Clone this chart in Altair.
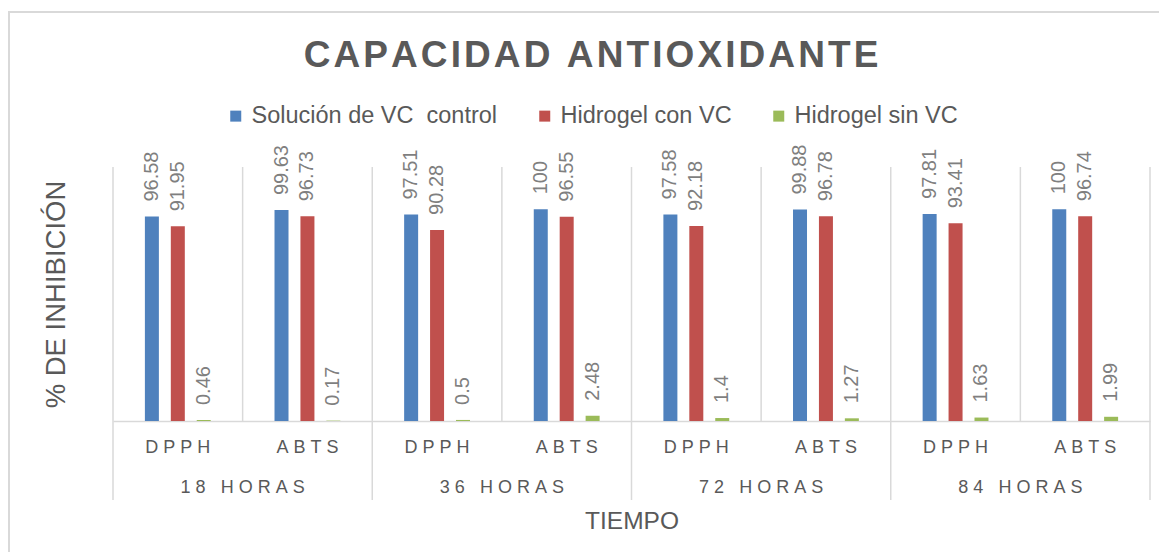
import altair as alt
import pandas as pd

# ---- data ----
titulo = "CAPACIDAD ANTIOXIDANTE"
grupos = ["18 HORAS", "36 HORAS", "72 HORAS", "84 HORAS"]
metodos = ["DPPH", "ABTS"]
series = ["Solución de VC  control", "Hidrogel con VC", "Hidrogel sin VC"]
control = [96.58, 99.63, 97.51, 100, 97.58, 99.88, 97.81, 100]
con_vc = [91.95, 96.73, 90.28, 96.55, 92.18, 96.78, 93.41, 96.74]
sin_vc = [0.46, 0.17, 0.5, 2.48, 1.4, 1.27, 1.63, 1.99]
colores = ["#4F81BD", "#C0504D", "#9BBB59"]

keys = [f"{g}|{m}" for g in grupos for m in metodos]
rows = []
for i, k in enumerate(keys):
    for s, vals in zip(series, [control, con_vc, sin_vc]):
        rows.append({"clave": k, "serie": s, "valor": vals[i]})
df = pd.DataFrame(rows)

W, H = 1037, 254
GRAY = "#595959"
LINE = "#d9d9d9"
NB = "\u00a0"

xscale = alt.Scale(domain=keys, paddingInner=0, paddingOuter=0)
# empty slots on each side of the three series give the gap inside each category
oscale = alt.Scale(domain=["_a"] + series + ["_b"], paddingInner=0.46, paddingOuter=0.23)
yscale = alt.Scale(domain=[0, 120], nice=False)

xaxis = alt.Axis(
    title="TIEMPO",
    labelExpr="join(split(split(datum.label, '|')[1], ''), '" + NB + "')",
    bandPosition=0.5, labelAlign="center",
    ticks=False, grid=False, domainColor=LINE, domainWidth=1.5,
    labelAngle=0, labelFontSize=18, labelColor=GRAY, labelPadding=26,
    titleFontSize=24.5, titleFontWeight="normal", titleColor=GRAY, titlePadding=53,
)
yaxis = alt.Axis(
    title="% DE INHIBICIÓN", labels=False, ticks=False, domain=False, grid=False,
    titleFontSize=27.5, titleFontWeight="normal", titleColor=GRAY, titlePadding=43,
)

base = alt.Chart(df)

bars = base.mark_bar().encode(
    x=alt.X("clave:N", scale=xscale, axis=xaxis, title="TIEMPO"),
    xOffset=alt.XOffset("serie:N", scale=oscale),
    y=alt.Y("valor:Q", scale=yscale, axis=yaxis, title="% DE INHIBICIÓN"),
    color=alt.Color(
        "serie:N",
        scale=alt.Scale(domain=series, range=colores),
        legend=alt.Legend(
            title=None, orient="none", legendX=111, legendY=-63,
            direction="horizontal", symbolType="square", symbolSize=121,
            symbolStrokeWidth=0, labelFontSize=23.5, labelColor=GRAY,
            labelLimit=400, columnPadding=35, labelOffset=4,
            labelExpr="replace(datum.label, '  ', ' " + NB + "')",
        ),
    ),
)

labels = base.mark_text(
    angle=270, align="left", baseline="middle", dx=15, fontSize=20, color="#7f7f7f"
).encode(
    x=alt.X("clave:N", scale=xscale, title="TIEMPO"),
    xOffset=alt.XOffset("serie:N", scale=oscale),
    y=alt.Y("valor:Q", scale=yscale, title="% DE INHIBICIÓN"),
    text=alt.Text("valor:Q"),
)

# separators
inner_df = pd.DataFrame({"clave": [f"{g}|ABTS" for g in grupos]})
start_df = pd.DataFrame({"clave": [f"{g}|DPPH" for g in grupos]})
end_df = pd.DataFrame({"clave": [keys[-1]]})

inner_rules = alt.Chart(inner_df).mark_rule(color=LINE, strokeWidth=1.5).encode(
    x=alt.X("clave:N", scale=xscale, bandPosition=0, title="TIEMPO"),
    y=alt.value(0), y2=alt.value(H),
)
group_rules = alt.Chart(start_df).mark_rule(color=LINE, strokeWidth=1.5).encode(
    x=alt.X("clave:N", scale=xscale, bandPosition=0, title="TIEMPO"),
    y=alt.value(0), y2=alt.value(H + 79),
)
end_rule = alt.Chart(end_df).mark_rule(color=LINE, strokeWidth=1.5).encode(
    x=alt.X("clave:N", scale=xscale, bandPosition=1, title="TIEMPO"),
    y=alt.value(0), y2=alt.value(H + 79),
)

group_df = pd.DataFrame({"clave": [f"{g}|DPPH" for g in grupos], "grupo": grupos})
group_text = alt.Chart(group_df).transform_calculate(
    txt="join(split(datum.grupo, ''), '" + NB + "')"
).mark_text(fontSize=18, color=GRAY, baseline="middle", align="center").encode(
    x=alt.X("clave:N", scale=xscale, bandPosition=1, title="TIEMPO"),
    y=alt.value(H + 67),
    text="txt:N",
)

title_df = pd.DataFrame({"t": ["\u200a".join(titulo)]})
title_mark = alt.Chart(title_df).mark_text(
    fontSize=37, fontWeight="bold", color=GRAY, align="center", baseline="middle"
).encode(x=alt.value(478), y=alt.value(-111), text="t:N")

border_df = pd.DataFrame({"b": [1]})
border = alt.Chart(border_df).mark_rect(
    fill="white", fillOpacity=0, stroke=LINE, strokeWidth=2
).encode(
    x=alt.value(-104), x2=alt.value(W + 100), y=alt.value(-155), y2=alt.value(H + 200)
)

chart = alt.layer(
    border, inner_rules, group_rules, end_rule, bars, labels, group_text, title_mark
).properties(
    width=W, height=H,
    autosize=alt.AutoSizeParams(type="none"),
    padding={"left": 105, "top": 159, "right": 9, "bottom": 131},
).configure(font="Liberation Sans").configure_view(stroke=None)

chart.save("out.html", embed_options={"renderer": "svg", "actions": False})
